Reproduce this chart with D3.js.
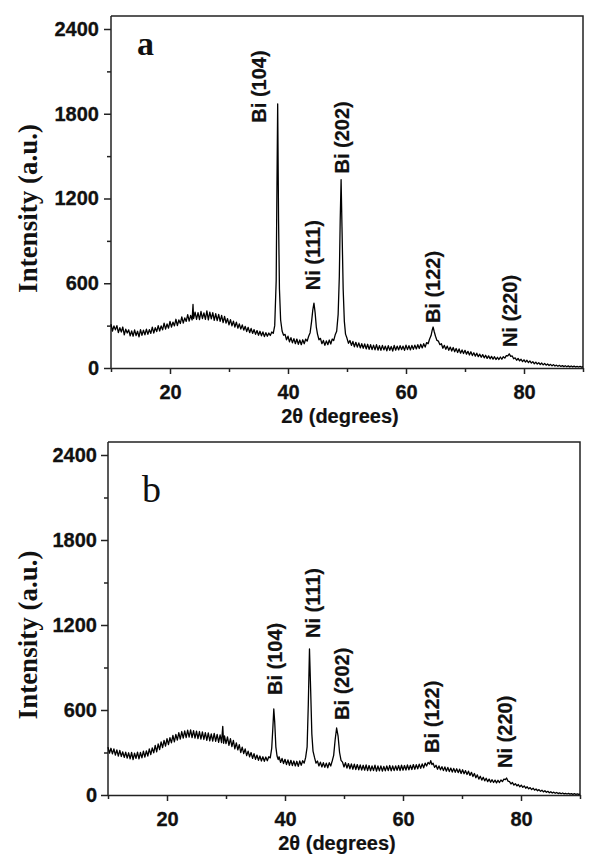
<!DOCTYPE html>
<html>
<head>
<meta charset="utf-8">
<script src="https://cdn.jsdelivr.net/npm/d3@7"></script>
<style>
  body { margin: 0; background: #fff; }
  svg { display: block; background: #fff; }
  .tick text { font-family: Arial, "Liberation Sans", sans-serif; font-weight: bold; font-size: 20px; fill: #111; stroke: #111; stroke-width: 0.3; }
  .peak { font-family: Arial, "Liberation Sans", sans-serif; font-weight: bold; font-size: 20px; fill: #111; stroke: #111; stroke-width: 0.2; }
</style>
</head>
<body>
<svg id="chart" width="600" height="866"></svg>
<script>
// tick values
const xTicks = [20, 40, 60, 80];
const xMinorTicks = [10, 30, 50, 70, 90];
const yTicks = [0, 600, 1200, 1800, 2400];
const yMinorTicks = [300, 900, 1500, 2100];

// [2theta, intensity]
const patternA = [
  [10,310],[10.25,262],[10.5,298],[10.75,270],[11,300],[11.25,250],[11.5,285],[11.75,255],[12,290],[12.25,235],
  [12.5,275],[12.75,248],[13,270],[13.25,228],[13.5,262],[13.75,225],[14,270],[14.25,230],[14.5,260],[14.75,220],
  [15,272],[15.25,232],[15.5,268],[15.75,235],[16,275],[16.25,238],[16.5,272],[16.75,245],[17,290],[17.25,248],
  [17.5,285],[17.75,258],[18,300],[18.25,262],[18.5,298],[18.75,270],[19,318],[19.25,275],[19.5,312],[19.75,282],
  [20,330],[20.25,290],[20.5,325],[20.75,298],[21,345],[21.25,300],[21.5,340],[21.75,315],[22,362],[22.25,318],
  [22.5,355],[22.75,330],[23,378],[23.25,332],[23.5,372],[23.75,340],[23.9,450],[24,350],[24.25,395],[24.5,345],
  [24.75,392],[25,342],[25.25,400],[25.5,350],[25.75,390],[26,345],[26.25,405],[26.5,340],[26.75,395],[27,348],
  [27.25,392],[27.5,338],[27.75,385],[28,335],[28.25,380],[28.5,330],[28.75,372],[29,322],[29.25,365],[29.5,318],
  [29.75,350],[30,305],[30.25,342],[30.5,298],[30.75,332],[31,290],[31.25,325],[31.5,282],[31.75,312],[32,275],
  [32.25,305],[32.5,268],[32.75,295],[33,258],[33.25,288],[33.5,250],[33.75,280],[34,245],[34.25,272],[34.5,238],
  [34.75,265],[35,232],[35.25,260],[35.5,228],[35.75,255],[36,222],[36.25,250],[36.5,225],[36.75,248],[37,230],
  [37.25,255],[37.5,245],[37.75,300],[38.0,620],[38.1,1150],[38.25,1870],[38.4,1050],[38.55,560],[38.75,340],[39,262],
  [39.25,232],[39.5,238],[39.75,200],[40,225],[40.25,185],[40.5,215],[40.75,178],[41,208],[41.25,172],[41.5,205],
  [41.75,168],[42,198],[42.25,165],[42.5,200],[42.75,172],[43,205],[43.25,190],[43.5,225],[43.75,250],[44.0,330],
  [44.2,410],[44.4,459],[44.6,390],[44.8,290],[45,240],[45.25,200],[45.5,210],[45.75,172],[46,195],[46.25,160],
  [46.5,192],[46.75,165],[47,198],[47.25,170],[47.5,205],[47.75,195],[48,235],[48.25,260],[48.5,380],[48.7,650],
  [48.85,1050],[49.0,1334],[49.15,1000],[49.35,560],[49.55,330],[49.75,240],[50,210],[50.25,175],[50.5,195],[50.75,160],
  [51,188],[51.25,150],[51.5,182],[51.75,148],[52,178],[52.25,142],[52.5,172],[52.75,140],[53,170],[53.25,135],
  [53.5,168],[53.75,132],[54,165],[54.25,130],[54.5,162],[54.75,128],[55,165],[55.25,126],[55.5,158],[55.75,125],
  [56,160],[56.25,128],[56.5,155],[56.75,122],[57,158],[57.25,125],[57.5,152],[57.75,120],[58,160],[58.25,126],
  [58.5,155],[58.75,128],[59,158],[59.25,130],[59.5,155],[59.75,125],[60,162],[60.25,130],[60.5,158],[60.75,128],
  [61,160],[61.25,132],[61.5,162],[61.75,135],[62,165],[62.25,138],[62.5,168],[62.75,142],[63,172],[63.25,148],
  [63.5,180],[63.75,172],[64,205],[64.25,230],[64.45,270],[64.6,290],[64.8,255],[65,225],[65.25,195],[65.5,190],
  [65.75,165],[66,172],[66.25,140],[66.5,160],[66.75,132],[67,155],[67.25,125],[67.5,148],[67.75,120],[68,145],
  [68.25,115],[68.5,138],[68.75,110],[69,135],[69.25,105],[69.5,128],[69.75,102],[70,125],[70.25,98],[70.5,118],
  [70.75,92],[71,115],[71.25,88],[71.5,108],[71.75,84],[72,105],[72.25,80],[72.5,98],[72.75,76],[73,95],
  [73.25,72],[73.5,90],[73.75,68],[74,86],[74.25,65],[74.5,82],[74.75,62],[75,80],[75.25,60],[75.5,76],
  [75.75,60],[76,78],[76.25,62],[76.5,80],[76.75,70],[77,88],[77.25,85],[77.5,100],[77.75,82],[78,85],
  [78.25,65],[78.5,72],[78.75,55],[79,68],[79.25,50],[79.5,62],[79.75,45],[80,58],[80.25,42],[80.5,55],
  [80.75,38],[81,50],[81.25,35],[81.5,45],[81.75,30],[82,42],[82.25,28],[82.5,38],[82.75,25],[83,35],
  [83.25,22],[83.5,32],[83.75,20],[84,28],[84.25,18],[84.5,26],[84.75,15],[85,24],[85.25,14],[85.5,20],
  [85.75,12],[86,19],[86.25,11],[86.5,17],[86.75,10],[87,16],[87.25,9],[87.5,15],[87.75,8],[88,14],
  [88.25,8],[88.5,13],[88.75,7],[89,12],[89.25,7],[89.5,11],[89.75,6],[90,10]
];

// [2theta, intensity]
const patternB = [
  [10,338],[10.25,295],[10.5,330],[10.75,290],[11,325],[11.25,282],[11.5,318],[11.75,275],[12,315],[12.25,272],
  [12.5,305],[12.75,265],[13,302],[13.25,260],[13.5,298],[13.75,255],[14,300],[14.25,250],[14.5,295],[14.75,258],
  [15,302],[15.25,255],[15.5,300],[15.75,262],[16,310],[16.25,268],[16.5,312],[16.75,275],[17,325],[17.25,285],
  [17.5,332],[17.75,298],[18,350],[18.25,305],[18.5,360],[18.75,320],[19,375],[19.25,335],[19.5,385],[19.75,345],
  [20,398],[20.25,355],[20.5,405],[20.75,368],[21,420],[21.25,375],[21.5,428],[21.75,388],[22,440],[22.25,395],
  [22.5,448],[22.75,402],[23,452],[23.25,405],[23.5,458],[23.75,408],[24,460],[24.25,405],[24.5,455],[24.75,402],
  [25,450],[25.25,398],[25.5,448],[25.75,395],[26,445],[26.25,392],[26.5,440],[26.75,385],[27,438],[27.25,382],
  [27.5,432],[27.75,380],[28,435],[28.25,378],[28.5,428],[28.75,372],[29,425],[29.25,370],[29.45,485],[29.6,365],
  [29.75,418],[30,362],[30.25,410],[30.5,350],[30.75,398],[31,342],[31.25,385],[31.5,325],[31.75,368],[32,318],
  [32.25,355],[32.5,300],[32.75,338],[33,292],[33.25,325],[33.5,278],[33.75,310],[34,270],[34.25,300],[34.5,258],
  [34.75,292],[35,252],[35.25,282],[35.5,245],[35.75,275],[36,240],[36.25,270],[36.5,238],[36.75,268],[37,242],
  [37.25,270],[37.5,262],[37.75,330],[37.95,480],[38.1,607],[38.25,520],[38.45,340],[38.65,275],[38.85,250],[39,270],
  [39.25,230],[39.5,258],[39.75,222],[40,252],[40.25,215],[40.5,248],[40.75,210],[41,245],[41.25,208],[41.5,240],
  [41.75,205],[42,238],[42.25,202],[42.5,240],[42.75,210],[43,242],[43.25,225],[43.5,265],[43.75,340],[43.95,640],
  [44.15,1031],[44.35,740],[44.55,430],[44.75,310],[45,265],[45.25,225],[45.5,240],[45.75,205],[46,232],[46.25,198],
  [46.5,228],[46.75,195],[47,225],[47.25,192],[47.5,228],[47.75,205],[48,240],[48.25,280],[48.5,390],[48.75,473],
  [49.0,415],[49.25,300],[49.5,245],[49.75,232],[50,198],[50.25,228],[50.5,190],[50.75,222],[51,185],[51.25,220],
  [51.5,182],[51.75,218],[52,180],[52.25,215],[52.5,178],[52.75,212],[53,176],[53.25,210],[53.5,175],[53.75,212],
  [54,172],[54.25,208],[54.5,170],[54.75,205],[55,172],[55.25,210],[55.5,168],[55.75,205],[56,170],[56.25,206],
  [56.5,168],[56.75,202],[57,170],[57.25,205],[57.5,172],[57.75,208],[58,170],[58.25,205],[58.5,172],[58.75,206],
  [59,174],[59.25,208],[59.5,172],[59.75,210],[60,175],[60.25,208],[60.5,176],[60.75,212],[61,178],[61.25,210],
  [61.5,180],[61.75,215],[62,182],[62.25,214],[62.5,185],[62.75,218],[63,188],[63.25,220],[63.5,192],[63.75,225],
  [64,205],[64.25,230],[64.5,218],[64.7,242],[64.9,215],[65.1,225],[65.35,195],[65.6,210],[65.85,182],[66.1,205],
  [66.35,178],[66.6,200],[66.85,172],[67.1,198],[67.35,168],[67.6,195],[67.85,165],[68.1,190],[68.35,162],[68.6,188],
  [68.85,160],[69.1,185],[69.35,158],[69.6,182],[69.85,152],[70.1,178],[70.35,150],[70.6,172],[70.85,145],[71.1,168],
  [71.35,138],[71.6,160],[71.85,130],[72.1,152],[72.35,122],[72.6,142],[72.85,112],[73.1,132],[73.35,105],[73.6,125],
  [73.85,100],[74.1,118],[74.35,94],[74.6,112],[74.85,90],[75.1,108],[75.35,88],[75.6,105],[75.85,86],[76.1,104],
  [76.35,88],[76.6,106],[76.85,95],[77.1,112],[77.35,108],[77.55,120],[77.8,98],[78.05,95],[78.3,78],[78.55,88],
  [78.8,70],[79.05,80],[79.3,64],[79.55,74],[79.8,58],[80.05,70],[80.3,54],[80.55,64],[80.8,48],[81.05,58],
  [81.3,44],[81.55,52],[81.8,38],[82.05,48],[82.3,34],[82.55,42],[82.8,30],[83.05,38],[83.3,26],[83.55,34],
  [83.8,22],[84.05,30],[84.3,19],[84.55,26],[84.8,16],[85.05,23],[85.3,14],[85.55,20],[85.8,12],[86.05,18],
  [86.3,10],[86.55,15],[86.8,9],[87.05,14],[87.3,8],[87.55,12],[87.8,7],[88.05,11],[88.3,6],[88.55,10],
  [88.8,5],[89.05,9],[89.3,5],[89.55,8],[89.8,4],[90,7]
];

// peak labels: text, 2theta of label centre, intensity at label foot
const peaksA = [
  { label: 'Bi (104)', t: 35.1, i: 1737 },
  { label: 'Ni (111)', t: 44.2, i: 551 },
  { label: 'Bi (202)', t: 49.2, i: 1377 },
  { label: 'Bi (122)', t: 64.6, i: 318 },
  { label: 'Ni (220)', t: 77.6, i: 148 }
];
const peaksB = [
  { label: 'Bi (104)', t: 38.3, i: 706 },
  { label: 'Ni (111)', t: 44.7, i: 1108 },
  { label: 'Bi (202)', t: 49.7, i: 530 },
  { label: 'Bi (122)', t: 64.9, i: 297 },
  { label: 'Ni (220)', t: 77.3, i: 191 }
];

const svg = d3.select('#chart');

function drawPanel(p) {
  const x = d3.scaleLinear().domain([10, 90]).range([p.left, p.right]);
  const y = d3.scaleLinear().domain([0, 2400]).range([p.bottom, p.top]);
  const g = svg.append('g');

  // top + right border
  g.append('path')
    .attr('d', `M${p.left},${p.frameTop}H${p.right}V${p.bottom}`)
    .attr('fill', 'none')
    .attr('stroke', '#222')
    .attr('stroke-width', 1.5);

  // minor ticks
  g.append('g')
    .attr('transform', `translate(0,${p.bottom})`)
    .call(d3.axisBottom(x).tickValues(xMinorTicks).tickSize(4).tickFormat(''))
    .call(a => a.select('.domain').remove());
  g.append('g')
    .attr('transform', `translate(${p.left},0)`)
    .call(d3.axisLeft(y).tickValues(yMinorTicks).tickSize(4).tickFormat(''))
    .call(a => a.select('.domain').remove());

  g.append('g')
    .attr('transform', `translate(0,${p.bottom})`)
    .call(d3.axisBottom(x).tickValues(xTicks).tickSize(6).tickSizeOuter(0).tickPadding(11).tickFormat(d3.format('d')));

  const yAxisG = g.append('g')
    .attr('transform', `translate(${p.left},0)`)
    .call(d3.axisLeft(y).tickValues(yTicks).tickSize(7).tickSizeOuter(0).tickPadding(p.yPad).tickFormat(d3.format('d')));
  // axis line runs up to the frame
  yAxisG.select('.domain').attr('d', `M0,${p.bottom}V${p.frameTop}`);

  g.selectAll('.domain, .tick line').attr('stroke', '#222').attr('stroke-width', 1.5);

  // pattern
  const line = d3.line().x(d => x(d[0])).y(d => y(d[1]));
  g.append('path')
    .datum(p.data)
    .attr('d', line)
    .attr('fill', 'none')
    .attr('stroke', '#000')
    .attr('stroke-width', 1.3)
    .attr('stroke-linejoin', 'round');

  // peak labels
  g.selectAll('.peak')
    .data(p.peaks)
    .enter()
    .append('text')
    .attr('class', 'peak')
    .attr('x', d => x(d.t))
    .attr('y', d => y(d.i))
    .attr('dy', '0.36em')
    .attr('transform', d => `rotate(-90,${x(d.t)},${y(d.i)})`)
    .text(d => d.label);

  // panel letter
  g.append('text')
    .attr('x', p.left + p.letterDx)
    .attr('y', p.frameTop + p.letterDy)
    .attr('font-family', '"Liberation Serif", "Times New Roman", serif')
    .attr('font-weight', p.letterWeight)
    .attr('font-size', p.letterSize)
    .attr('fill', '#111')
    .text(p.letter);

  // axis titles
  g.append('text')
    .attr('x', (p.left + p.right) / 2 - 7)
    .attr('y', p.bottom + 55)
    .attr('text-anchor', 'middle')
    .attr('font-family', 'Arial, "Liberation Sans", sans-serif')
    .attr('font-weight', 'bold')
    .attr('font-size', 20)
    .attr('fill', '#111')
    .attr('stroke', '#111')
    .attr('stroke-width', 0.2)
    .text('2θ (degrees)');

  const ty = (p.top + p.bottom) / 2 + 10;
  g.append('text')
    .attr('x', 37)
    .attr('y', ty)
    .attr('transform', `rotate(-90,37,${ty})`)
    .attr('text-anchor', 'middle')
    .attr('font-family', '"Liberation Serif", "Times New Roman", serif')
    .attr('font-weight', 'bold')
    .attr('font-size', 27)
    .attr('fill', '#111')
    .text('Intensity (a.u.)');
}

drawPanel({
  left: 111, right: 583, frameTop: 16, top: 29, bottom: 368, yPad: 5,
  data: patternA, peaks: peaksA,
  letter: 'a', letterDx: 26, letterDy: 39, letterSize: 34, letterWeight: 'bold'
});

drawPanel({
  left: 108, right: 580, frameTop: 442, top: 455, bottom: 795, yPad: 4,
  data: patternB, peaks: peaksB,
  letter: 'b', letterDx: 34, letterDy: 60, letterSize: 38, letterWeight: 'normal'
});
</script>
</body>
</html>
